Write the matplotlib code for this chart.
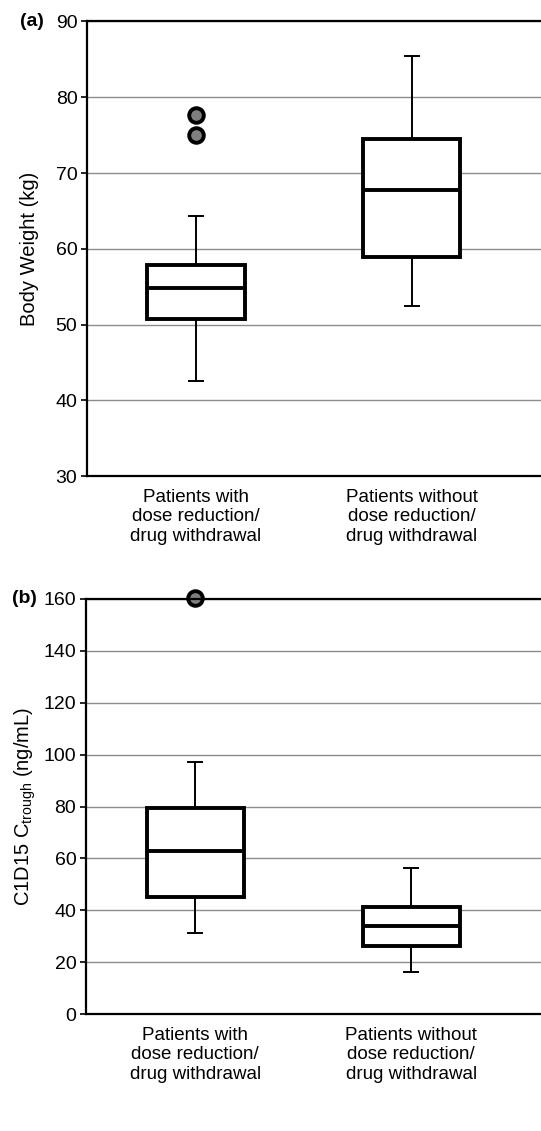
import matplotlib
matplotlib.use("Agg")
import matplotlib.pyplot as plt

plt.rcParams['font.family'] = ['Liberation Sans', 'DejaVu Sans']
plt.rcParams['mathtext.fontset'] = 'custom'
plt.rcParams['mathtext.rm'] = 'Liberation Sans'

# category labels shared by both panels
groups = ['Patients with\ndose reduction/\ndrug withdrawal',
          'Patients without\ndose reduction/\ndrug withdrawal']

# (a) body weight (kg): whislo, q1, median, q3, whishi
bw_whislo = [42.6, 52.5]
bw_q1 = [50.8, 58.9]
bw_med = [54.8, 67.8]
bw_q3 = [57.9, 74.5]
bw_whishi = [64.3, 85.5]
bw_fliers = [[77.6, 75.0], []]

# (b) C1D15 Ctrough (ng/mL)
ct_whislo = [31.1, 16.3]
ct_q1 = [45.3, 26.4]
ct_med = [62.9, 33.9]
ct_q3 = [79.4, 41.4]
ct_whishi = [97.0, 56.2]
ct_fliers = [[160.2], []]


def make_stats(lo, q1, med, q3, hi, fl):
    return [dict(whislo=lo[i], q1=q1[i], med=med[i], q3=q3[i], whishi=hi[i],
                 fliers=fl[i]) for i in range(len(lo))]


def draw_panel(ax, stats, ylim, yticks, ylabel, tag, labelpad, tag_x):
    ax.bxp(stats, positions=[1, 2], widths=0.45, patch_artist=True,
           capwidths=0.065,
           boxprops=dict(facecolor='white', edgecolor='black', linewidth=2.8),
           medianprops=dict(color='black', linewidth=2.8),
           whiskerprops=dict(color='black', linewidth=1.4),
           capprops=dict(color='black', linewidth=1.4),
           flierprops=dict(marker='o', markerfacecolor='#7f7f7f',
                           markeredgecolor='black', markeredgewidth=2.8,
                           markersize=10.5),
           zorder=3)
    ax.set_xlim(0.495, 2.6)
    ax.set_ylim(*ylim)
    ax.set_yticks(yticks)
    ax.yaxis.grid(True, color='#8c8c8c', linewidth=1.0)
    ax.set_axisbelow(True)
    ax.spines['right'].set_visible(False)
    for s in ['left', 'top', 'bottom']:
        ax.spines[s].set_linewidth(1.6)
        ax.spines[s].set_zorder(4)
    ax.tick_params(axis='y', direction='out', length=4, width=1.2,
                   labelsize=14, pad=3)
    ax.tick_params(axis='x', length=0, labelsize=13.5, pad=9)
    ax.set_xticks([1, 2])
    ax.set_xticklabels(groups, linespacing=1.2)
    ax.set_ylabel(ylabel, fontsize=14.5, labelpad=labelpad)
    ax.text(tag_x, 1.0, tag, transform=ax.transAxes, fontsize=14,
            fontweight='bold', va='center', ha='left')
    for ln in ax.lines:
        ln.set_clip_on(False)


fig = plt.figure(figsize=(5.41, 11.31), dpi=100)
ax_a = fig.add_axes([0.161, 0.579, 0.839, 0.402])
ax_b = fig.add_axes([0.159, 0.1034, 0.841, 0.367])

draw_panel(ax_a, make_stats(bw_whislo, bw_q1, bw_med, bw_q3, bw_whishi, bw_fliers),
           (30, 90), range(30, 91, 10), 'Body Weight (kg)', '(a)', 12, -0.148)
draw_panel(ax_b, make_stats(ct_whislo, ct_q1, ct_med, ct_q3, ct_whishi, ct_fliers),
           (0, 160), range(0, 161, 20),
           r'C1D15 C$_{\mathregular{trough}}$ (ng/mL)', '(b)', 4, -0.162)

fig.savefig('out.png', dpi=100)
